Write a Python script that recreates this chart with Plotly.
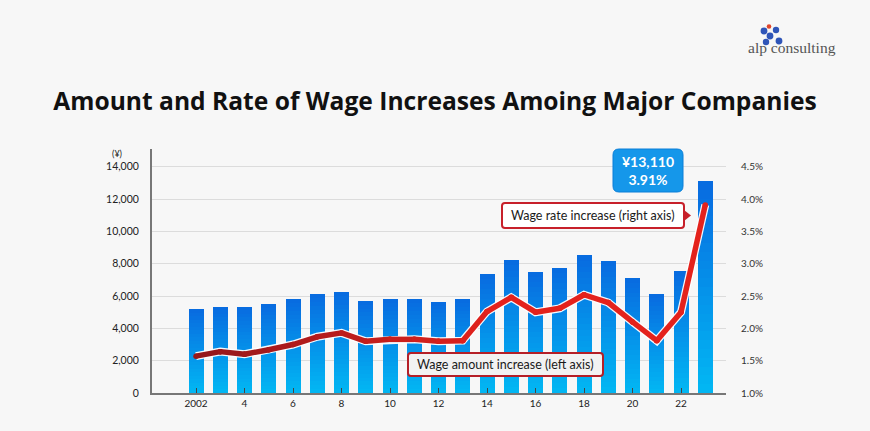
import plotly.graph_objects as go

# ---------------- data ----------------
years = list(range(2002, 2024))
wage_amount = [5180, 5350, 5350, 5500, 5800, 6150, 6250, 5700, 5800, 5800, 5650, 5830,
               7370, 8235, 7500, 7755, 8540, 8200, 7100, 6120, 7560, 13110]
wage_rate = [1.57, 1.64, 1.60, 1.67, 1.75, 1.87, 1.93, 1.80, 1.83, 1.83, 1.80, 1.81,
             2.26, 2.48, 2.25, 2.31, 2.52, 2.40, 2.10, 1.81, 2.25, 3.91]
x_tick_vals = [2002, 2004, 2006, 2008, 2010, 2012, 2014, 2016, 2018, 2020, 2022]
x_tick_text = ["2002", "4", "6", "8", "10", "12", "14", "16", "18", "20", "22"]
y_tick_vals = [0, 2000, 4000, 6000, 8000, 10000, 12000, 14000]
y2_tick_vals = [1.0, 1.5, 2.0, 2.5, 3.0, 3.5, 4.0, 4.5]
y2_tick_text = ["1.0%", "1.5%", "2.0%", "2.5%", "3.0%", "3.5%", "4.0%", "4.5%"]
highlight_amount = "¥13,110"
highlight_rate = "3.91%"
label_rate = "Wage rate increase (right axis)"
label_amount = "Wage amount increase (left axis)"
title_text = "Amount and Rate of Wage Increases Amoing Major Companies"
yen_unit = "(¥)"
logo_text = "alp consulting"

# ---------------- geometry helpers ----------------
W, H = 870, 431
L, R, T, B = 152, 144, 149, 38
PW, PH = W - L - R, H - T - B
BG = "#f7f7f7"


def px(x):
    return (x - L) / PW


def py(y):
    return (H - B - y) / PH


def rrect(x0, y0, x1, y1, r):
    pts = [("M", [(x0 + r, y0)]), ("L", [(x1 - r, y0)]), ("Q", [(x1, y0), (x1, y0 + r)]),
           ("L", [(x1, y1 - r)]), ("Q", [(x1, y1), (x1 - r, y1)]), ("L", [(x0 + r, y1)]),
           ("Q", [(x0, y1), (x0, y1 - r)]), ("L", [(x0, y0 + r)]), ("Q", [(x0, y0), (x0 + r, y0)])]
    s = ""
    for cmd, ps in pts:
        s += cmd + " " + " ".join(f"{px(a):.5f},{py(b):.5f}" for a, b in ps) + " "
    return s + "Z"


def mix(c1, c2, t):
    return "rgb(%d,%d,%d)" % tuple(round(a + (b - a) * t) for a, b in zip(c1, c2))


fig = go.Figure()

# ---------------- bars (vertical gradient via overlaid layers) ----------------
N = 24
top_c, bot_c = (8, 108, 224), (2, 182, 243)
for k in range(N):
    frac = (N - k) / N
    fig.add_trace(go.Bar(
        x=years, y=[v * frac for v in wage_amount], width=0.62,
        marker=dict(color=mix(top_c, bot_c, k / (N - 1)), line=dict(width=0)),
        hoverinfo="skip", showlegend=False, yaxis="y"))

# ---------------- rate line ----------------
fig.add_trace(go.Scatter(
    x=years, y=wage_rate, mode="lines", yaxis="y2",
    line=dict(color="rgba(255,255,255,0.95)", width=8),
    hoverinfo="skip", showlegend=False))
dark_c, bright_c = (150, 24, 28), (228, 34, 28)
for i in range(len(years) - 1):
    t = min(1.0, i / 12)
    col = mix(dark_c, bright_c, t)
    fig.add_trace(go.Scatter(
        x=years[i:i + 2], y=wage_rate[i:i + 2], mode="lines+markers", yaxis="y2",
        line=dict(color=col, width=5.5), marker=dict(color=col, size=5.5),
        hoverinfo="skip", showlegend=False))

# ---------------- shapes ----------------
shapes = []
# blue highlight box
shapes.append(dict(type="path", xref="paper", yref="paper", path=rrect(613, 149, 683, 192, 6),
                   fillcolor="#1597ea", line=dict(color="#0b7fd8", width=1), layer="above"))
# rate label box + arrow
shapes.append(dict(type="path", xref="paper", yref="paper", path=rrect(502, 203, 684, 228, 3),
                   fillcolor="#ffffff", line=dict(color="#c7202a", width=2), layer="above"))
shapes.append(dict(type="path", xref="paper", yref="paper",
                   path=f"M {px(684):.5f},{py(210):.5f} L {px(691):.5f},{py(215.5):.5f} L {px(684):.5f},{py(221):.5f} Z",
                   fillcolor="#c7202a", line=dict(width=0), layer="above"))
# amount label box
shapes.append(dict(type="path", xref="paper", yref="paper", path=rrect(408, 353, 603, 376, 3),
                   fillcolor="#f2f2f2", line=dict(color="#b51f27", width=2), layer="above"))
# logo icon
for (cx, cy, r, c) in [(764, 31, 3.4, "#2f55b8"), (776, 30, 3.2, "#2f55b8"), (770, 36, 3.4, "#2f55b8"),
                       (766, 42, 3.2, "#2f55b8"), (779, 41, 3.4, "#2f55b8"), (769, 26.5, 2.3, "#e0452b")]:
    shapes.append(dict(type="circle", xref="paper", yref="paper",
                       x0=px(cx - r), x1=px(cx + r), y0=py(cy + r), y1=py(cy - r),
                       fillcolor=c, line=dict(width=0), layer="above"))

# ---------------- annotations ----------------
ann = []


def note(x, y, text, font, **kw):
    d = dict(xref="paper", yref="paper", x=px(x), y=py(y), showarrow=False,
             xanchor="center", yanchor="middle", text=text, font=font)
    d.update(kw)
    ann.append(d)


note(648, 170.5, f"<b>{highlight_amount}<br>{highlight_rate}</b>",
     dict(family="Lato", size=14, color="#ffffff"), align="center")
note(593, 215.5, label_rate, dict(family="Lato", size=12.5, color="#1a1a1a"))
note(505.5, 364.5, label_amount, dict(family="Lato", size=12.5, color="#1a1a1a"))
note(117, 153.5, yen_unit, dict(family="Lato", size=9, color="#222"))
note(792, 47, logo_text, dict(family="Liberation Serif", size=15.5, color="#555555"))

fig.update_layout(
    width=W, height=H, margin=dict(l=L, r=R, t=T, b=B),
    paper_bgcolor=BG, plot_bgcolor=BG, barmode="overlay", bargap=0,
    showlegend=False, shapes=shapes, annotations=ann,
    title=dict(text=f"<b>{title_text}</b>", x=0.5, xanchor="center", xref="container",
               y=1 - 101 / H, yanchor="middle", yref="container",
               font=dict(family="Open Sans", size=24.6, color="#111111", weight=800)),
    xaxis=dict(range=[2000.185, 2023.855], tickvals=x_tick_vals, ticktext=x_tick_text,
               showgrid=False, zeroline=False, showline=True, linecolor="#777777", linewidth=2,
               ticks="inside", ticklen=5, tickcolor="#444444", tickwidth=1,
               tickfont=dict(family="Lato", size=10, color="#222222")),
    yaxis=dict(range=[0, 15100], tickvals=y_tick_vals, tickformat=",",
               showgrid=True, gridcolor="#dcdcdc", gridwidth=1, zeroline=False,
               showline=True, linecolor="#777777", linewidth=2, ticks="",
               ticklabelstandoff=9,
               tickfont=dict(family="Lato", size=10.5, color="#222222")),
    yaxis2=dict(range=[1.0, 1.0 + 15100 / 4000], overlaying="y", side="right",
                tickvals=y2_tick_vals, ticktext=y2_tick_text, showgrid=False,
                zeroline=False, showline=False, ticks="", ticklabelstandoff=14,
                tickfont=dict(family="Lato", size=10, color="#333333")),
)

fig.write_html("out.html")
